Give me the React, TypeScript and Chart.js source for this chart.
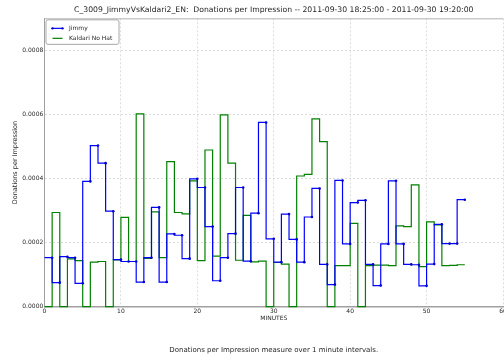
import React, { useEffect, useRef } from 'react';
import { Chart, registerables } from 'chart.js';

Chart.register(...registerables);

const minutes = [
  0, 1, 2, 3, 4, 5, 6, 7, 8, 9, 10, 11, 12, 13, 14, 15, 16, 17, 18, 19, 20,
  21, 22, 23, 24, 25, 26, 27, 28, 29, 30, 31, 32, 33, 34, 35, 36, 37, 38, 39,
  40, 41, 42, 43, 44, 45, 46, 47, 48, 49, 50, 51, 52, 53, 54, 55,
];

const jimmy = [
  0.000153, 0.000153, 0.000075, 0.000156, 0.000153, 0.000073, 0.000391, 0.000503,
  0.000448, 0.000298, 0.000147, 0.000141, 0.000141, 0.000077, 0.000153, 0.00031,
  0.000077, 0.000227, 0.000223, 0.00015, 0.000399, 0.000372, 0.00025, 0.000081,
  0.000153, 0.000228, 0.000372, 0.000142, 0.000292, 0.000575, 0.000212, 0.000139,
  0.000289, 0.00021, 0.000139, 0.00028, 0.000369, 0.000132, 0.000069, 0.000394,
  0.000196, 0.000325, 0.000332, 0.000132, 0.000066, 0.000196, 0.000393, 0.000196,
  0.000132, 0.000131, 0.000065, 0.000133, 0.000257, 0.000197, 0.000197, 0.000334,
];

const kaldari = [
  0, 0, 0.000294, 0, 0.000149, 0.000144, 0, 0.000139,
  0.000141, 0, 0.000146, 0.000279, 0.000141, 0.000602, 0.000151, 0.000296,
  0.000153, 0.000453, 0.000294, 0.00029, 0.000393, 0.000144, 0.000489, 0.000158,
  0.000599, 0.000448, 0.000145, 0.000285, 0.00014, 0.000142, 0, 0.000138,
  0.000133, 0, 0.000408, 0.000413, 0.000586, 0.000515, 0, 0.000128,
  0.000128, 0.00026, 0, 0.000128, 0.00013, 0.00013, 0.000128, 0.000252,
  0.00025, 0.00038, 0.000125, 0.000265, 0.000255, 0.000128, 0.000129, 0.000131,
];

const xTicks = [0, 10, 20, 30, 40, 50, 60];
const yTicks = [0, 0.0002, 0.0004, 0.0006, 0.0008];

const FONT = "'DejaVu Sans', 'Liberation Sans', sans-serif";
const TEXT = '#262626';

const framePlugin = {
  id: 'frameAndLegend',
  afterDraw(chart: any) {
    const { ctx, chartArea } = chart;
    ctx.save();
    // top spine
    ctx.strokeStyle = '#b0b0b0';
    ctx.lineWidth = 1;
    ctx.beginPath();
    ctx.moveTo(chartArea.left, chartArea.top + 0.5);
    ctx.lineTo(chartArea.right, chartArea.top + 0.5);
    ctx.stroke();

    // legend box
    const bx = chartArea.left + 1;
    const by = chartArea.top + 1;
    const bw = 73;
    const bh = 24.5;
    ctx.fillStyle = '#ffffff';
    ctx.strokeStyle = '#a8a8a8';
    ctx.lineWidth = 1;
    ctx.beginPath();
    if (ctx.roundRect) ctx.roundRect(bx + 0.5, by + 0.5, bw, bh, 2);
    else ctx.rect(bx + 0.5, by + 0.5, bw, bh);
    ctx.fill();
    ctx.stroke();

    chart.data.datasets.forEach((ds: any, i: number) => {
      const cy = by + 9 + i * 10;
      const x1 = bx + 7;
      const x2 = bx + 17;
      ctx.strokeStyle = ds.borderColor;
      ctx.lineWidth = 1.2;
      ctx.beginPath();
      ctx.moveTo(x1, cy);
      ctx.lineTo(x2, cy);
      ctx.stroke();
      if (ds.pointRadiusLegend) {
        ctx.fillStyle = ds.pointBackgroundColor;
        [x1, x2].forEach((px) => {
          ctx.beginPath();
          ctx.arc(px, cy, 1.2, 0, Math.PI * 2);
          ctx.fill();
        });
      }
      ctx.fillStyle = TEXT;
      ctx.font = `6px ${FONT}`;
      ctx.textBaseline = 'middle';
      ctx.textAlign = 'left';
      ctx.fillText(ds.label, bx + 23.5, cy + 0.5);
    });
    ctx.restore();
  },
};

export default function App() {
  const canvasRef = useRef<HTMLCanvasElement | null>(null);

  useEffect(() => {
    const canvas = canvasRef.current;
    if (!canvas) return;
    const chart = new Chart(canvas, {
      type: 'line',
      data: {
        datasets: [
          {
            label: 'Jimmy',
            data: minutes.map((m, i) => ({ x: m, y: jimmy[i] })),
            borderColor: '#0000ff',
            backgroundColor: '#0000ff',
            pointBackgroundColor: '#0000cc',
            pointBorderWidth: 0,
            pointHoverRadius: 0,
            pointRadius: (c: any) => (c.dataIndex === 0 ? 0 : 1.3),
            borderWidth: 1.2,
            stepped: 'after',
            fill: false,
            clip: 4,
            pointRadiusLegend: true,
          } as any,
          {
            label: 'Kaldari No Hat',
            data: minutes.map((m, i) => ({ x: m, y: kaldari[i] })),
            borderColor: '#008000',
            backgroundColor: '#008000',
            pointRadius: 0,
            pointHoverRadius: 0,
            borderWidth: 1.2,
            stepped: 'after',
            fill: false,
            clip: 4,
          } as any,
        ],
      },
      options: {
        animation: false,
        responsive: false,
        devicePixelRatio: 1,
        layout: { autoPadding: false, padding: { left: 0, right: 1, top: 0, bottom: 0 } },
        plugins: {
          legend: { display: false },
          tooltip: { enabled: false },
          title: {
            display: true,
            fullSize: false,
            text: 'C_3009_JimmyVsKaldari2_EN:  Donations per Impression -- 2011-09-30 18:25:00 - 2011-09-30 19:20:00',
            color: TEXT,
            font: { family: FONT, size: 7.7, weight: 'normal' },
            padding: { top: 5, bottom: 4.1 },
          },
          subtitle: {
            display: true,
            fullSize: false,
            position: 'bottom',
            text: 'Donations per Impression measure over 1 minute intervals.',
            color: TEXT,
            font: { family: FONT, size: 7, weight: 'normal' },
            padding: { top: 11.1, bottom: 5.8 },
          },
        },
        scales: {
          x: {
            type: 'linear',
            min: 0,
            max: 60,
            afterBuildTicks: (s: any) => {
              s.ticks = xTicks.map((v) => ({ value: v }));
            },
            afterFit: (s: any) => {
              s.height = 28;
              s.paddingLeft = 0;
              s.paddingRight = 0;
            },
            ticks: {
              color: TEXT,
              font: { family: FONT, size: 6 },
              padding: 1,
              maxRotation: 0,
              autoSkip: false,
              callback: (v: any) => String(v),
            },
            grid: { color: '#dcdcdc', lineWidth: 1, drawTicks: false },
            border: { display: true, color: '#a0a0a0', width: 1.5, dash: [2, 2] },
            title: {
              display: true,
              text: 'MINUTES',
              color: TEXT,
              font: { family: FONT, size: 6 },
              padding: { top: 0, bottom: 12.6 },
            },
          },
          y: {
            type: 'linear',
            min: 0,
            max: 0.0009,
            afterBuildTicks: (s: any) => {
              s.ticks = yTicks.map((v) => ({ value: v }));
            },
            afterFit: (s: any) => {
              s.width = 44.5;
              s.paddingTop = 0;
              s.paddingBottom = 0;
            },
            ticks: {
              color: TEXT,
              font: { family: FONT, size: 6 },
              padding: 1.2,
              callback: (v: any) => Number(v).toFixed(4),
            },
            grid: { color: '#dcdcdc', lineWidth: 1, drawTicks: false },
            border: { display: true, color: '#a0a0a0', width: 1, dash: [2, 2] },
            title: {
              display: true,
              text: 'Donations per Impression',
              color: TEXT,
              font: { family: FONT, size: 6.5 },
              padding: { top: 11.8, bottom: 0 },
            },
          },
        },
      } as any,
      plugins: [framePlugin],
    });
    return () => chart.destroy();
  }, []);

  return (
    <div style={{ position: 'absolute', left: 0, top: 0, width: 504, height: 360, background: '#fff' }}>
      <canvas ref={canvasRef} width={504} height={360} style={{ display: 'block', width: 504, height: 360 }} />
    </div>
  );
}
